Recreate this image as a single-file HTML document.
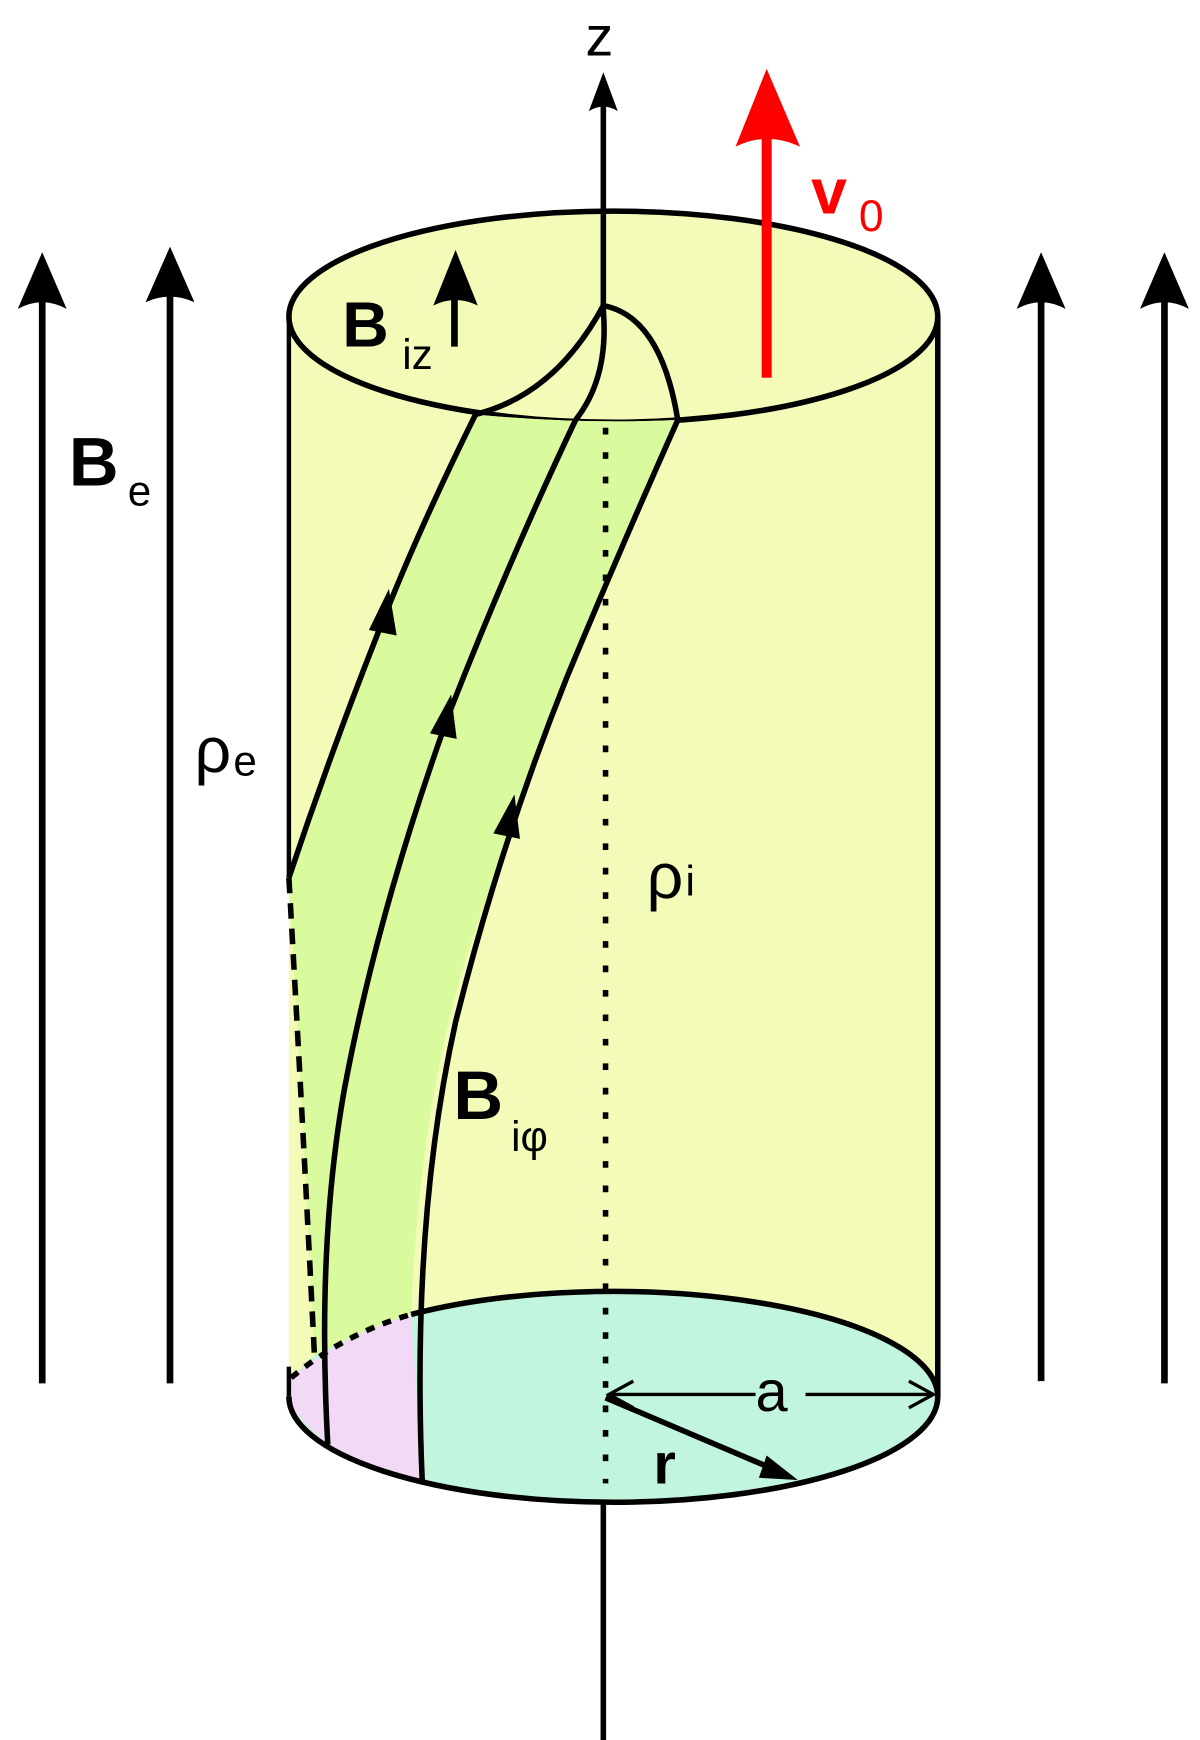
<!DOCTYPE html>
<html><head><meta charset="utf-8"><style>html,body{margin:0;padding:0;background:#fff}svg{display:block}</style></head>
<body>
<svg width="1200" height="1740" viewBox="0 0 1080 1566" xmlns="http://www.w3.org/2000/svg" font-family="Liberation Sans, sans-serif">
<path d="M260,285 L260,1257 A292,95 0 0 0 844,1257 L844,285 Z" fill="#f4fbb9"/>
<ellipse cx="552" cy="285" rx="292" ry="95" fill="#f4fbb9" stroke="#000" stroke-width="5"/>
<ellipse cx="552" cy="1257" rx="292" ry="95" fill="#c2f5dd" stroke="none"/>
<path d="M262,1240 Q310,1200 370,1183 L380,1333 Q300,1320 262,1265 Z" fill="#f2d9f6"/>
<path d="M428,373 Q380,470 348,550 Q300,670 260,790 Q272,1000 283,1220 Q330,1195 370,1183 Q375,1000 410,850 Q440,730 465,730 Q520,560 610,378 Q520,382 428,373 Z" fill="#dafa9e"/>
<path d="M428,373 Q380,470 348,550 Q300,670 260,790 Q272,1000 283,1220 Q330,1195 370,1183 Q378,980 430,830 Q510,600 610,378 Q520,382 428,373 Z" fill="#dafa9e"/>
<path d="M260,1257 A292,95 0 0 0 844,1257" fill="none" stroke="#000" stroke-width="5"/>
<path d="M370,1183 A292,95 0 0 1 844,1257" fill="none" stroke="#000" stroke-width="5"/>
<path d="M262,1240 Q310,1200 370,1183" fill="none" stroke="#000" stroke-width="5" stroke-dasharray="8,8"/>
<line x1="260" y1="285" x2="260" y2="790" stroke="#000" stroke-width="4"/>
<line x1="260" y1="1230" x2="260" y2="1257" stroke="#000" stroke-width="4"/>
<line x1="844" y1="285" x2="844" y2="1257" stroke="#000" stroke-width="5"/>
<line x1="543" y1="1566" x2="543" y2="1352" stroke="#000" stroke-width="5"/>
<line x1="543" y1="285" x2="543" y2="75" stroke="#000" stroke-width="5"/>
<path d="M530,100 L543,65 L556,100 Q543,92 530,100 Z" fill="#000"/>
<line x1="545" y1="385" x2="545" y2="1335" stroke="#000" stroke-width="5" stroke-dasharray="6,16"/>
<text x="527" y="50" font-size="50">z</text>
<path d="M428,373 Q380,470 348,550 Q300,670 260,790" fill="none" stroke="#000" stroke-width="5"/>
<path d="M260,790 Q272,1000 283,1220" fill="none" stroke="#000" stroke-width="5" stroke-dasharray="14,9"/>
<path d="M518,378 Q460,500 405,640 Q340,820 310,980 Q285,1120 295,1300" fill="none" stroke="#000" stroke-width="5"/>
<path d="M610,378 Q560,490 510,610 Q450,760 410,920 Q370,1100 380,1333" fill="none" stroke="#000" stroke-width="5"/>
<path d="M428,373 Q500,355 543,275 Q595,285 610,378" fill="none" stroke="#000" stroke-width="5"/>
<path d="M518,378 Q548,340 543,280" fill="none" stroke="#000" stroke-width="5"/>
<path d="M332,567 L350,530 L357,572 Z" fill="#000"/>
<path d="M387,660 L406,625 L411,665 Z" fill="#000"/>
<path d="M444,750 L463,715 L468,755 Z" fill="#000"/>
<g stroke="#000" stroke-width="6">
<line x1="38" y1="1245" x2="38" y2="265"/><line x1="153" y1="1245" x2="153" y2="265"/>
<line x1="937" y1="1243" x2="937" y2="265"/><line x1="1048" y1="1245" x2="1048" y2="265"/>
<line x1="409" y1="312" x2="409" y2="260"/>
</g>
<g fill="#000">
<path d="M16,278 L38,227 L60,278 Q38,266 16,278 Z"/>
<path d="M131,272 L153,222 L175,272 Q153,262 131,272 Z"/>
<path d="M915,278 L937,227 L959,278 Q937,266 915,278 Z"/>
<path d="M1026,278 L1048,227 L1070,278 Q1048,266 1026,278 Z"/>
<path d="M390,275 L410,225 L430,275 Q410,265 390,275 Z"/>
</g>
<line x1="690" y1="340" x2="690" y2="115" stroke="#f00" stroke-width="9"/>
<path d="M662,132 L690,62 L720,132 Q690,118 662,132 Z" fill="#f00"/>
<text x="730" y="192" font-size="58" font-weight="bold" fill="#f00">v</text>
<text x="773" y="208" font-size="40" fill="#f00">0</text>
<line x1="548" y1="1255" x2="680" y2="1255" stroke="#000" stroke-width="3"/>
<line x1="725" y1="1255" x2="840" y2="1255" stroke="#000" stroke-width="3"/>
<path d="M570,1243 L548,1255 L570,1267" fill="none" stroke="#000" stroke-width="3"/>
<path d="M818,1243 L840,1255 L818,1267" fill="none" stroke="#000" stroke-width="3"/>
<line x1="545" y1="1258" x2="705" y2="1326" stroke="#000" stroke-width="5"/>
<path d="M690,1310 L718,1332 L683,1330 Z" fill="#000"/>
<text x="62" y="437" font-size="62" font-weight="bold">B</text>
<text x="115" y="455" font-size="38">e</text>
<text x="308" y="312" font-size="58" font-weight="bold">B</text>
<text x="362" y="332" font-size="38">iz</text>
<text x="175" y="695" font-size="58">ρ</text>
<text x="210" y="698" font-size="38">e</text>
<text x="582" y="808" font-size="58">ρ</text>
<text x="617" y="806" font-size="38">i</text>
<text x="408" y="1007" font-size="62" font-weight="bold">B</text>
<text x="460" y="1036" font-size="38">iφ</text>
<text x="680" y="1270" font-size="52">a</text>
<text x="588" y="1335" font-size="52" font-weight="bold">r</text>
</svg>
</body></html>
